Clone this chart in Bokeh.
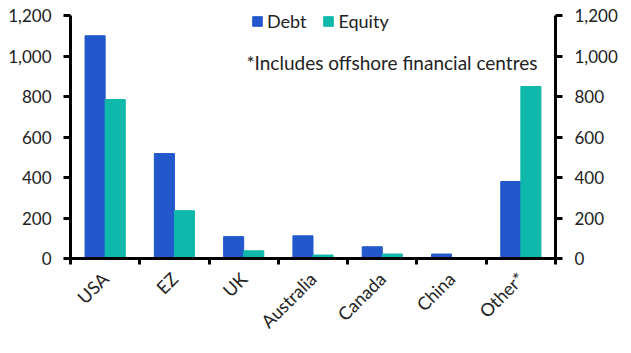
from bokeh.plotting import figure
from bokeh.models import (LinearAxis, FixedTicker, NumeralTickFormatter, Range1d,
                          Label, Legend, LegendItem, ColumnDataSource)
from bokeh.embed import file_html
from bokeh.resources import INLINE
import math

categories = ["USA", "EZ", "UK", "Australia", "Canada", "China", "Other*"]
debt = [1100, 518, 108, 112, 58, 22, 380]
equity = [785, 236, 38, 17, 22, 2, 849]
y_ticks = [0, 200, 400, 600, 800, 1000, 1200]

FONT = "Lato"
FS = "17px"
BLUE = "#2258CC"
TEAL = "#0EB8AA"
TXT = "#222222"

n = len(categories)
centers = [i + 0.5 for i in range(n)]
src = ColumnDataSource(dict(
    xd=[c - 0.145 for c in centers],
    xe=[c + 0.145 for c in centers],
    debt=debt, equity=equity))

# frame extends 12px above the 1,200 line so the legend sits inside it
p = figure(frame_width=485, frame_height=255, output_backend="svg", toolbar_location=None,
           x_range=Range1d(0, n), y_range=Range1d(0, 1200 * 255 / 243),
           x_axis_location=None, y_axis_location=None,
           min_border_left=70, min_border_right=76, min_border_top=3, min_border_bottom=95)
p.outline_line_color = None
p.grid.visible = False

r1 = p.vbar(x="xd", top="debt", width=0.29, source=src, color=BLUE)
r2 = p.vbar(x="xe", top="equity", width=0.29, source=src, color=TEAL)

def style_y(ax):
    ax.ticker = FixedTicker(ticks=y_ticks)
    ax.formatter = NumeralTickFormatter(format="0,0")
    ax.bounds = (0, 1200)
    ax.axis_line_width = 3
    ax.major_tick_line_width = 3
    ax.major_tick_out = 7
    ax.major_tick_in = 0
    ax.minor_tick_line_color = None
    ax.major_label_text_font = FONT
    ax.major_label_text_font_size = FS
    ax.major_label_text_color = TXT
    ax.major_label_standoff = 12

yl = LinearAxis()
style_y(yl)
p.add_layout(yl, "left")
yr = LinearAxis()
style_y(yr)
p.add_layout(yr, "right")

xa = LinearAxis()
xa.ticker = FixedTicker(ticks=centers, minor_ticks=list(range(n + 1)))
xa.major_label_overrides = {c: cat for c, cat in zip(centers, categories)}
xa.axis_line_width = 3
xa.major_tick_line_color = None
xa.minor_tick_line_width = 3
xa.minor_tick_out = 6
xa.minor_tick_in = 0
xa.major_label_orientation = math.pi / 4
xa.major_label_text_font = FONT
xa.major_label_text_font_size = "18px"
xa.major_label_text_color = TXT
xa.major_label_standoff = 11
p.add_layout(xa, "below")

legend = Legend(items=[LegendItem(label="Debt", renderers=[r1]),
                       LegendItem(label="Equity", renderers=[r2])],
                orientation="horizontal", location=(181, 226),
                background_fill_alpha=0, border_line_color=None,
                label_text_font=FONT, label_text_font_size="18px",
                label_text_color=TXT, glyph_width=12, glyph_height=12,
                spacing=16, padding=0, margin=0, label_standoff=4)
p.add_layout(legend, "center")

note = Label(x=2.54, y=968, text="*Includes offshore financial centres",
             text_font=FONT, text_font_size="19px", text_color=TXT,
             text_baseline="middle")
p.add_layout(note)

open("out.html", "w").write(file_html(p, INLINE))
